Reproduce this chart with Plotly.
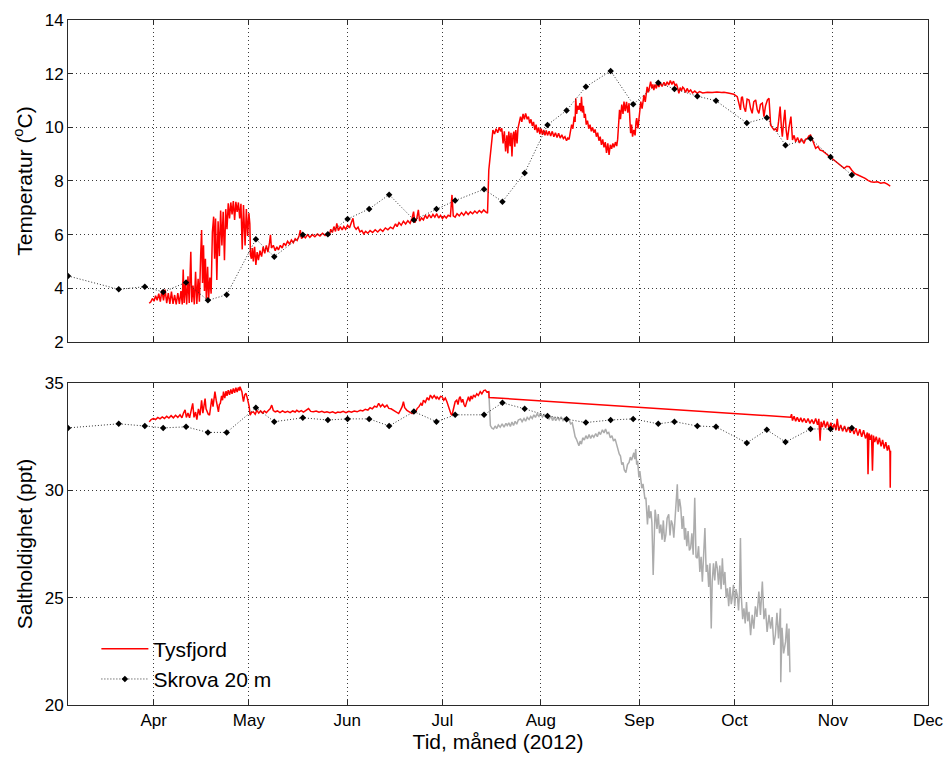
import pandas as pd
import plotly.graph_objects as go

# Dag i 2012 (0 = 1. januar) og verdi, lest av fra figuren
TYSFJORD_TEMP = [
    (89.6, 3.44), (90.1, 3.50), (90.6, 3.62), (91.1, 3.52), (91.6, 3.72), (92.1, 3.55), (92.6, 3.80),
    (93.1, 3.50), (93.6, 3.92), (94.1, 3.55), (94.6, 3.95), (95.1, 3.45), (95.6, 3.82), (96.1, 3.42),
    (96.6, 3.88), (97.1, 3.42), (97.6, 3.75), (98.1, 3.40), (98.6, 3.82), (99.1, 3.42), (99.6, 3.90),
    (100.0, 3.40), (100.3, 4.70), (100.6, 3.45), (101.0, 4.25), (101.4, 3.40), (101.8, 4.45), (102.2, 3.45),
    (102.7, 5.36), (103.0, 3.48), (103.4, 4.10), (103.8, 3.40), (104.2, 4.62), (104.6, 3.42), (105.0, 4.35),
    (105.4, 3.50), (105.8, 5.20), (106.1, 6.17), (106.4, 4.20), (106.7, 5.60), (107.0, 3.90), (107.3, 5.10),
    (107.6, 3.62), (108.0, 4.80), (108.3, 3.56), (108.7, 4.40), (109.1, 3.80), (109.5, 6.10), (109.9, 6.67),
    (110.2, 5.10), (110.5, 6.60), (110.9, 4.31), (111.3, 6.50), (111.7, 5.20), (112.1, 6.90), (112.5, 5.60),
    (112.9, 6.85), (113.3, 5.05), (113.7, 6.95), (114.1, 6.20), (114.5, 7.17), (114.9, 6.60), (115.3, 7.20),
    (115.7, 6.75), (116.1, 7.25), (116.5, 6.55), (116.9, 7.22), (117.3, 6.85), (117.7, 7.20), (118.1, 6.60),
    (118.5, 7.15), (118.9, 5.45), (119.3, 7.10), (119.8, 5.60), (120.2, 6.95), (120.6, 5.95), (121.0, 6.80),
    (121.3, 6.40), (121.5, 5.24), (121.8, 5.10), (122.1, 5.50), (122.4, 5.00), (122.8, 5.55), (123.2, 4.87),
    (123.6, 5.35), (124.0, 5.05), (124.5, 5.40), (125.0, 5.18), (125.5, 5.55), (126.0, 5.30), (126.5, 5.60),
    (127.0, 5.35), (127.5, 5.70), (127.8, 5.99), (128.1, 5.50), (128.7, 5.60), (129.3, 5.40), (129.8, 5.55),
    (130.3, 5.43), (130.9, 5.60), (131.5, 5.50), (132.0, 5.68), (132.6, 5.60), (133.2, 5.75), (133.8, 5.65),
    (134.4, 5.80), (135.0, 5.70), (135.6, 5.85), (136.2, 5.78), (136.8, 5.95), (137.2, 6.17), (137.6, 5.85),
    (138.2, 5.95), (138.8, 5.88), (139.5, 6.00), (140.2, 5.90), (141.0, 6.00), (141.8, 5.92), (142.6, 6.02),
    (143.4, 5.95), (144.2, 6.05), (145.0, 5.97), (145.8, 6.05), (146.4, 6.00), (146.8, 6.20), (147.3, 6.08),
    (147.8, 6.30), (148.3, 6.12), (148.7, 6.42), (149.2, 6.15), (149.8, 6.30), (150.4, 6.18), (150.9, 6.30),
    (151.5, 6.20), (152.1, 6.35), (152.7, 6.25), (153.3, 6.45), (153.8, 6.61), (154.2, 6.30), (154.8, 6.20),
    (155.4, 6.28), (156.0, 6.10), (156.6, 6.15), (157.2, 6.03), (157.8, 6.12), (158.5, 6.05), (159.2, 6.15),
    (160.0, 6.08), (160.8, 6.18), (161.6, 6.10), (162.4, 6.20), (163.2, 6.12), (164.0, 6.25), (164.8, 6.18),
    (165.6, 6.28), (166.4, 6.22), (167.2, 6.40), (167.7, 6.30), (168.3, 6.45), (169.0, 6.35), (169.7, 6.50),
    (170.4, 6.40), (171.1, 6.52), (171.8, 6.42), (172.4, 6.60), (172.9, 6.86), (173.3, 6.45), (173.9, 6.60),
    (174.4, 6.92), (174.8, 6.50), (175.4, 6.62), (176.0, 6.55), (176.6, 6.72), (177.2, 6.60), (177.8, 6.75),
    (178.4, 6.62), (179.0, 6.75), (179.6, 6.65), (180.2, 6.78), (180.8, 6.62), (181.4, 6.72), (182.0, 6.60),
    (182.6, 6.70), (183.2, 6.62), (183.8, 6.72), (184.5, 6.68), (185.0, 7.48), (185.4, 6.70), (186.0, 6.65),
    (186.6, 6.78), (187.3, 6.70), (188.0, 6.82), (188.7, 6.72), (189.4, 6.85), (190.1, 6.75), (190.8, 6.85),
    (191.5, 6.78), (192.2, 6.88), (192.9, 6.80), (193.6, 6.90), (194.3, 6.82), (195.0, 6.92), (195.6, 6.85),
    (196.2, 6.80), (196.6, 8.41), (197.1, 9.03), (197.6, 9.60), (197.9, 9.90), (198.4, 9.75), (198.9, 9.95),
    (199.4, 9.80), (199.9, 10.00), (200.3, 9.85), (200.7, 9.96), (201.1, 9.40), (201.5, 9.85), (201.9, 9.10),
    (202.3, 9.70), (202.6, 9.03), (202.9, 9.84), (203.3, 9.30), (203.6, 9.80), (203.9, 8.91), (204.2, 9.70),
    (204.5, 9.84), (204.8, 9.28), (205.1, 9.90), (205.5, 9.40), (205.8, 9.96), (206.2, 10.25), (206.6, 10.40),
    (207.0, 10.20), (207.4, 10.50), (207.8, 10.30), (208.2, 10.52), (208.7, 10.30), (209.1, 10.40), (209.5, 10.15),
    (209.9, 10.30), (210.3, 10.05), (210.7, 10.20), (211.1, 9.90), (211.5, 10.10), (211.9, 9.80), (212.3, 10.00),
    (212.7, 9.75), (213.1, 9.95), (213.5, 9.72), (213.9, 9.90), (214.3, 9.70), (214.7, 9.88), (215.1, 9.70),
    (215.6, 9.85), (216.1, 9.68), (216.6, 9.85), (217.1, 9.65), (217.6, 9.80), (218.1, 9.62), (218.6, 9.78),
    (219.1, 9.60), (219.6, 9.72), (220.1, 9.58), (220.6, 9.65), (221.1, 9.50), (221.5, 9.60), (221.9, 9.55),
    (222.3, 9.84), (222.7, 10.10), (223.1, 9.95), (223.5, 10.40), (223.8, 10.20), (224.0, 11.08), (224.3, 10.50),
    (224.6, 10.80), (225.0, 10.65), (225.3, 10.90), (225.6, 10.60), (225.8, 11.14), (226.1, 10.55), (226.4, 10.80),
    (226.7, 10.35), (227.0, 10.50), (227.3, 10.10), (227.7, 10.25), (228.1, 9.95), (228.5, 10.10), (228.9, 9.85),
    (229.3, 10.00), (229.7, 9.80), (230.1, 9.92), (230.5, 9.65), (230.9, 9.80), (231.3, 9.50), (231.7, 9.65),
    (232.1, 9.35), (232.5, 9.55), (232.9, 9.25), (233.3, 9.45), (233.7, 9.05), (234.1, 9.40), (234.5, 8.97),
    (234.9, 9.35), (235.3, 9.20), (235.7, 9.40), (236.1, 9.25), (236.5, 9.45), (236.9, 9.30), (237.2, 9.55),
    (237.5, 10.10), (237.8, 10.65), (238.1, 10.30), (238.5, 10.85), (238.9, 10.50), (239.2, 10.96), (239.6, 10.60),
    (240.0, 10.95), (240.4, 10.55), (240.8, 10.90), (241.1, 10.20), (241.3, 9.78), (241.6, 10.10), (241.9, 9.65),
    (242.3, 9.90), (242.7, 9.70), (243.0, 10.20), (243.2, 10.34), (243.6, 9.96), (244.0, 10.50), (244.5, 10.96),
    (244.9, 10.70), (245.2, 11.10), (245.5, 11.20), (245.9, 10.95), (246.2, 11.35), (246.5, 11.51), (246.9, 11.30),
    (247.2, 11.55), (247.6, 11.70), (248.0, 11.45), (248.3, 11.60), (248.6, 11.39), (249.0, 11.60), (249.4, 11.45),
    (249.7, 11.64), (250.2, 11.50), (250.7, 11.65), (251.2, 11.52), (251.8, 11.68), (252.3, 11.55), (252.8, 11.70),
    (253.3, 11.58), (253.8, 11.74), (254.3, 11.60), (254.8, 11.72), (255.3, 11.55), (255.7, 11.62), (256.0, 11.51),
    (256.5, 11.27), (256.9, 11.48), (257.3, 11.35), (257.7, 11.50), (258.1, 11.45), (258.6, 11.30), (259.1, 11.45),
    (259.6, 11.32), (260.2, 11.39), (260.8, 11.28), (261.5, 11.35), (262.3, 11.27), (263.0, 11.33), (264.0, 11.28),
    (265.5, 11.31), (267.0, 11.30), (268.5, 11.32), (270.0, 11.30), (270.7, 11.31), (272.0, 11.28), (273.0, 11.25),
    (273.8, 11.23), (274.4, 11.18), (274.9, 11.14), (275.4, 10.90), (275.9, 10.65), (276.2, 11.10), (276.5, 11.14),
    (277.0, 10.75), (277.5, 10.58), (278.0, 11.05), (278.6, 11.02), (279.1, 10.70), (279.6, 10.52), (280.1, 10.95),
    (280.7, 11.02), (281.2, 10.65), (281.7, 10.52), (282.2, 10.85), (282.8, 10.90), (283.3, 10.40), (283.8, 10.80),
    (284.4, 11.02), (284.9, 11.08), (285.2, 10.50), (285.4, 10.09), (286.0, 9.98), (286.5, 9.90), (287.0, 9.95),
    (287.5, 9.84), (287.9, 10.20), (288.4, 10.77), (288.8, 10.00), (289.1, 9.65), (289.5, 10.20), (289.9, 10.65),
    (290.3, 9.90), (290.7, 9.53), (291.2, 10.00), (291.8, 10.40), (292.3, 9.53), (292.8, 9.70), (293.3, 9.46),
    (293.9, 9.62), (294.5, 9.42), (295.1, 9.58), (295.9, 9.40), (296.4, 9.55), (297.0, 9.59), (297.5, 9.68),
    (298.0, 9.71), (298.6, 9.53), (299.1, 9.40), (299.6, 9.22), (300.3, 9.28), (301.0, 9.15), (301.7, 9.13),
    (302.5, 9.05), (303.3, 8.97), (304.1, 8.92), (304.9, 8.82), (305.6, 8.75), (306.3, 8.68), (307.0, 8.60),
    (307.8, 8.52), (308.6, 8.47), (309.4, 8.55), (310.2, 8.53), (311.0, 8.40), (311.8, 8.29), (312.6, 8.24),
    (313.4, 8.20), (314.3, 8.16), (315.2, 8.10), (316.1, 8.02), (317.0, 7.97), (318.0, 7.95), (319.1, 7.97),
    (320.1, 7.92), (321.2, 7.94), (322.2, 7.88), (323.1, 7.81),
]

SKROVA_DAYS = [64.0, 80.0, 88.2, 94.0, 101.2, 108.1, 114.0, 123.2, 129.0, 138.0, 145.9, 152.1, 158.9,
               165.2, 173.0, 180.1, 186.0, 195.1, 200.9, 207.9, 215.1, 221.1, 227.2, 235.0, 242.1,
               250.0, 255.1, 262.3, 268.2, 277.9, 284.2, 290.1, 298.0, 304.3, 311.0]
SKROVA_TEMP = [4.46, 3.96, 4.06, 3.86, 4.22, 3.55, 3.76, 5.83, 5.18, 6.00, 6.01, 6.58, 6.96,
               7.49, 6.55, 6.96, 7.27, 7.69, 7.23, 8.30, 10.09, 10.63, 11.51, 12.10, 10.86,
               11.66, 11.43, 11.16, 10.99, 10.16, 10.36, 9.33, 9.58, 8.89, 8.22]
SKROVA_SAL = [32.91, 33.10, 33.00, 32.91, 32.96, 32.70, 32.70, 33.85, 33.20, 33.38, 33.28, 33.33, 33.33,
              33.00, 33.67, 33.20, 33.52, 33.52, 34.08, 33.80, 33.47, 33.31, 33.16, 33.28, 33.33,
              33.10, 33.20, 33.00, 32.96, 32.21, 32.82, 32.25, 32.86, 32.86, 32.91]

TYSFJORD_SAL = [
    (89.6, 33.19), (90.2, 33.30), (90.9, 33.35), (91.6, 33.30), (92.3, 33.40), (93.0, 33.33), (93.7, 33.42),
    (94.4, 33.35), (95.1, 33.45), (95.8, 33.37), (96.5, 33.48), (97.2, 33.38), (97.9, 33.50), (98.6, 33.40),
    (99.3, 33.52), (99.9, 33.38), (100.4, 33.60), (100.9, 33.75), (101.3, 33.40), (101.8, 33.60), (102.3, 33.38),
    (102.8, 33.70), (103.3, 34.05), (103.7, 33.40), (104.2, 33.65), (104.6, 33.30), (105.1, 33.80), (105.6, 33.50),
    (106.1, 34.20), (106.5, 33.60), (106.9, 34.10), (107.2, 34.28), (107.5, 33.80), (107.8, 33.66), (108.2, 33.55),
    (108.6, 33.50), (109.0, 33.90), (109.3, 34.28), (109.7, 33.90), (110.0, 34.40), (110.3, 34.60), (110.7, 34.20),
    (111.1, 33.80), (111.4, 33.66), (111.7, 34.00), (112.0, 34.05), (112.4, 34.40), (112.7, 34.20), (113.0, 34.60),
    (113.4, 34.30), (113.8, 34.62), (114.1, 34.40), (114.5, 34.67), (114.9, 34.45), (115.3, 34.70), (115.7, 34.50),
    (116.1, 34.75), (116.5, 34.55), (116.9, 34.78), (117.3, 34.58), (117.7, 34.80), (118.0, 34.65), (118.2, 34.83),
    (118.5, 34.70), (118.8, 34.60), (119.1, 34.30), (119.3, 34.13), (119.7, 34.45), (120.1, 34.52), (120.5, 34.30),
    (120.8, 34.13), (121.1, 33.90), (121.4, 33.50), (121.8, 33.62), (122.4, 33.66), (123.0, 33.55), (123.5, 33.73),
    (124.1, 33.60), (124.7, 33.70), (125.3, 33.60), (125.9, 33.70), (126.5, 33.62), (127.2, 33.73), (127.7, 33.80),
    (128.2, 33.97), (128.7, 33.72), (129.3, 33.66), (130.0, 33.70), (130.8, 33.62), (131.6, 33.70), (132.4, 33.63),
    (133.2, 33.68), (134.0, 33.62), (134.8, 33.70), (135.6, 33.65), (136.1, 33.73), (136.8, 33.66), (137.5, 33.72),
    (138.2, 33.65), (139.0, 33.75), (139.8, 33.81), (140.5, 33.68), (141.3, 33.66), (142.2, 33.70), (143.1, 33.64),
    (144.0, 33.68), (144.8, 33.63), (145.6, 33.66), (146.5, 33.62), (147.4, 33.66), (148.3, 33.60), (149.0, 33.65),
    (149.8, 33.63), (150.7, 33.68), (151.6, 33.62), (152.5, 33.68), (153.3, 33.64), (154.2, 33.70), (155.1, 33.66),
    (156.1, 33.73), (156.9, 33.70), (157.7, 33.78), (158.5, 33.74), (159.2, 33.85), (159.9, 33.80), (160.6, 33.92),
    (161.3, 33.88), (161.9, 34.05), (162.5, 33.90), (163.1, 34.00), (163.8, 33.88), (164.5, 33.97), (165.1, 33.82),
    (165.8, 33.80), (166.6, 33.73), (167.3, 33.65), (168.2, 33.58), (168.8, 33.75), (169.3, 33.90), (169.7, 34.13),
    (170.1, 33.85), (170.8, 33.73), (171.5, 33.65), (172.4, 33.58), (173.0, 33.70), (173.5, 33.65), (174.0, 33.81),
    (174.6, 33.90), (175.2, 34.05), (175.6, 33.95), (176.0, 34.20), (176.6, 34.10), (177.2, 34.32), (177.7, 34.20),
    (178.2, 34.44), (178.8, 34.30), (179.4, 34.42), (180.0, 34.28), (180.3, 34.36), (180.9, 34.25), (181.4, 34.38),
    (181.9, 34.36), (182.4, 34.20), (182.9, 34.30), (183.4, 34.13), (183.9, 33.90), (184.3, 33.70), (184.7, 33.55),
    (185.0, 33.50), (185.4, 33.80), (185.7, 34.00), (186.0, 34.13), (186.5, 34.20), (186.9, 34.00), (187.3, 34.30),
    (187.6, 34.36), (188.0, 34.10), (188.4, 34.25), (188.8, 34.00), (189.2, 33.89), (189.6, 34.10), (190.2, 34.36),
    (190.6, 34.15), (191.0, 34.40), (191.4, 34.25), (191.8, 34.44), (192.3, 34.35), (192.8, 34.50), (193.3, 34.42),
    (193.9, 34.60), (194.4, 34.50), (195.0, 34.65), (195.5, 34.67), (196.0, 34.58), (196.6, 34.60), (196.7, 34.33),
    (291.7, 33.41), (292.0, 33.55), (292.3, 33.25), (292.8, 33.45), (293.3, 33.22), (293.8, 33.40), (294.4, 33.20),
    (294.9, 33.38), (295.4, 33.18), (296.0, 33.35), (296.6, 33.15), (297.2, 33.35), (297.8, 33.12), (298.4, 33.30),
    (299.0, 33.10), (299.6, 33.35), (300.2, 33.05), (300.6, 33.33), (301.0, 32.31), (301.3, 33.20), (301.7, 32.95),
    (302.2, 33.25), (302.7, 32.92), (303.3, 33.20), (303.8, 32.88), (304.4, 33.15), (304.9, 32.85), (305.5, 33.10),
    (306.0, 32.80), (306.4, 33.33), (306.9, 32.78), (307.5, 33.05), (308.1, 32.75), (308.7, 33.00), (309.3, 32.72),
    (309.9, 32.95), (310.5, 32.68), (311.1, 32.92), (311.7, 32.62), (312.3, 32.90), (312.9, 32.55), (313.5, 32.85),
    (314.1, 32.50), (314.7, 32.80), (315.3, 32.42), (315.9, 32.70), (316.1, 30.75), (316.4, 32.65), (316.8, 32.35),
    (317.2, 32.60), (317.5, 30.91), (317.8, 32.55), (318.2, 32.25), (318.7, 32.50), (319.2, 32.15), (319.7, 32.45),
    (320.2, 32.05), (320.7, 32.35), (321.2, 31.95), (321.7, 32.25), (322.2, 31.85), (322.6, 32.10), (323.0, 31.80),
    (323.1, 30.12), (323.2, 31.85),
]

# forkastet saltholdighet (grå)
TYSFJORD_SAL_RAW = [
    (196.6, 34.60), (196.9, 33.60), (197.1, 33.02), (197.6, 32.90), (198.1, 32.86), (198.6, 33.00), (199.1, 32.88),
    (199.6, 33.05), (200.2, 32.94), (200.8, 33.10), (201.4, 32.95), (202.0, 33.12), (202.4, 33.02), (202.9, 33.15),
    (203.4, 32.98), (203.9, 33.18), (204.4, 33.02), (204.9, 33.22), (205.4, 33.08), (205.9, 33.28), (206.6, 33.33),
    (207.1, 33.20), (207.7, 33.35), (208.2, 33.22), (208.7, 33.40), (209.3, 33.30), (209.8, 33.45), (210.3, 33.35),
    (210.8, 33.52), (211.3, 33.40), (211.8, 33.56), (212.4, 33.45), (212.9, 33.60), (213.5, 33.42), (214.1, 33.55),
    (214.6, 33.38), (215.0, 33.50), (215.6, 33.32), (216.2, 33.45), (216.7, 33.25), (217.2, 33.42), (217.7, 33.25),
    (218.3, 33.40), (218.8, 33.28), (219.4, 33.42), (220.0, 33.25), (220.6, 33.38), (221.2, 33.22), (221.8, 33.30),
    (222.4, 33.10), (222.9, 33.15), (223.4, 32.80), (223.8, 32.50), (224.2, 32.39), (224.6, 32.20), (225.0, 32.08),
    (225.4, 32.30), (225.8, 32.15), (226.2, 32.45), (226.7, 32.35), (227.2, 32.55), (227.7, 32.40), (228.2, 32.60),
    (228.7, 32.42), (229.2, 32.58), (229.7, 32.47), (230.3, 32.65), (230.8, 32.50), (231.3, 32.72), (231.8, 32.60),
    (232.4, 32.82), (232.9, 32.68), (233.4, 32.86), (233.9, 32.65), (234.4, 32.70), (234.9, 32.45), (235.4, 32.55),
    (235.9, 32.30), (236.4, 32.40), (236.9, 32.10), (237.3, 32.00), (237.7, 31.70), (238.1, 31.60), (238.5, 31.20),
    (238.9, 31.30), (239.3, 30.95), (239.8, 30.83), (240.3, 31.20), (240.8, 31.30), (241.2, 31.55), (241.6, 31.40),
    (241.9, 31.61), (242.3, 31.75), (242.6, 31.45), (242.9, 31.92), (243.2, 31.20), (243.5, 31.38), (243.9, 30.60),
    (244.2, 30.90), (244.5, 30.52), (244.8, 30.10), (245.2, 30.30), (245.5, 29.89), (245.8, 29.60), (246.1, 29.66),
    (246.4, 28.90), (246.6, 28.41), (247.0, 29.30), (247.3, 28.70), (247.7, 29.03), (248.0, 28.50), (248.4, 26.06),
    (248.7, 28.40), (249.0, 29.10), (249.2, 28.88), (249.6, 28.20), (250.0, 28.90), (250.4, 28.00), (250.8, 28.41),
    (251.2, 27.70), (251.6, 28.60), (252.0, 27.60), (252.4, 27.94), (252.8, 28.70), (253.3, 28.88), (253.7, 27.90),
    (254.1, 28.60), (254.5, 28.41), (254.9, 27.80), (255.3, 28.80), (255.6, 29.40), (256.0, 30.28), (256.3, 29.00),
    (256.7, 29.60), (257.1, 29.19), (257.5, 28.20), (257.9, 28.80), (258.3, 27.70), (258.6, 28.25), (259.0, 27.40),
    (259.4, 28.10), (259.8, 27.20), (260.2, 27.31), (260.6, 28.00), (261.0, 27.00), (261.5, 29.66), (261.9, 26.90),
    (262.3, 26.84), (262.7, 27.40), (263.1, 26.20), (263.5, 26.90), (263.9, 25.75), (264.3, 27.00), (264.7, 28.25),
    (265.1, 26.20), (265.5, 26.53), (265.9, 25.50), (266.3, 26.60), (266.7, 23.56), (267.0, 25.75), (267.4, 26.60),
    (267.8, 25.80), (268.2, 26.70), (268.6, 26.38), (269.0, 25.60), (269.4, 26.50), (269.8, 25.40), (270.2, 26.84),
    (270.6, 25.60), (271.0, 26.20), (271.4, 25.00), (271.8, 25.44), (272.2, 24.60), (272.6, 25.50), (273.0, 24.70),
    (273.3, 24.97), (273.7, 25.60), (274.1, 24.60), (274.5, 25.40), (274.9, 25.12), (275.3, 24.40), (275.6, 25.20),
    (275.9, 27.78), (276.2, 25.00), (276.6, 24.00), (277.0, 24.50), (277.4, 23.80), (277.8, 24.80), (278.2, 23.90),
    (278.6, 24.34), (279.1, 23.25), (279.6, 24.20), (280.1, 23.56), (280.6, 24.60), (281.1, 24.10), (281.7, 25.28),
    (282.2, 24.20), (282.8, 25.75), (283.3, 24.00), (283.8, 24.50), (284.3, 23.40), (284.9, 24.20), (285.4, 23.56),
    (285.9, 24.10), (286.4, 22.80), (286.9, 23.25), (287.4, 24.30), (287.9, 23.10), (288.5, 24.50), (288.6, 21.06),
    (289.0, 23.60), (289.5, 22.40), (290.1, 22.94), (290.5, 23.80), (290.9, 22.30), (291.2, 23.56), (291.5, 21.53),
]

MONTH_TICKS = ["2012-04-01", "2012-05-01", "2012-06-01", "2012-07-01", "2012-08-01",
               "2012-09-01", "2012-10-01", "2012-11-01", "2012-12-01"]
MONTH_LABELS = ["Apr", "May", "Jun", "Jul", "Aug", "Sep", "Oct", "Nov", "Dec"]

YEAR_START = pd.Timestamp("2012-01-01")


def to_dates(days):
    return YEAR_START + pd.to_timedelta(list(days), unit="D")


def split(pairs):
    days, vals = zip(*pairs)
    return to_dates(days), list(vals)


tt_x, tt_y = split(TYSFJORD_TEMP)
ts_x, ts_y = split(TYSFJORD_SAL)
tr_x, tr_y = split(TYSFJORD_SAL_RAW)
sk_x = to_dates(SKROVA_DAYS)

skrova_line = dict(color="#333333", width=1, dash="1px,2px")
skrova_marker = dict(symbol="diamond", size=5, color="black")

fig = go.Figure()
fig.add_trace(go.Scatter(x=tt_x, y=tt_y, mode="lines", line=dict(color="red", width=1.5),
                         showlegend=False, xaxis="x", yaxis="y"))
fig.add_trace(go.Scatter(x=sk_x, y=SKROVA_TEMP, mode="lines+markers", line=skrova_line,
                         marker=skrova_marker, showlegend=False, xaxis="x", yaxis="y"))
fig.add_trace(go.Scatter(x=tr_x, y=tr_y, mode="lines", line=dict(color="#acacac", width=1.5),
                         showlegend=False, xaxis="x2", yaxis="y2"))
fig.add_trace(go.Scatter(x=ts_x, y=ts_y, mode="lines", line=dict(color="red", width=1.5),
                         name="Tysfjord", xaxis="x2", yaxis="y2"))
fig.add_trace(go.Scatter(x=sk_x, y=SKROVA_SAL, mode="lines+markers", line=skrova_line,
                         marker=skrova_marker, name="Skrova 20 m", xaxis="x2", yaxis="y2"))

axis_style = dict(
    showline=True, linecolor="#2a2a2a", linewidth=1, mirror="ticks",
    ticks="inside", ticklen=5, tickcolor="#2a2a2a",
    showgrid=True, gridcolor="#3a3a3a", griddash="1px,3px", gridwidth=1,
    zeroline=False, tickfont=dict(size=17), automargin=False,
)
x_range = ["2012-03-05", "2012-12-01"]

fig.update_layout(
    width=946, height=761,
    margin=dict(l=68, r=18, t=20, b=56),
    paper_bgcolor="white", plot_bgcolor="white",
    font=dict(family="Liberation Sans, Arial, sans-serif", size=17, color="black"),
    legend=dict(x=0.033, y=0.008, xanchor="left", yanchor="bottom", itemwidth=47,
                bgcolor="rgba(0,0,0,0)", font=dict(size=21), traceorder="normal"),
    xaxis=dict(axis_style, domain=[0, 1], anchor="y", range=x_range, matches="x2",
               tickvals=MONTH_TICKS, ticktext=MONTH_LABELS, showticklabels=False),
    yaxis=dict(axis_style, domain=[0.530, 1], anchor="x", range=[2, 14], dtick=2,
               title=dict(text="Temperatur (<sup>o</sup>C)", font=dict(size=21), standoff=6)),
    xaxis2=dict(axis_style, domain=[0, 1], anchor="y2", range=x_range,
                tickvals=MONTH_TICKS, ticktext=MONTH_LABELS,
                title=dict(text="Tid, måned (2012)", font=dict(size=21), standoff=4)),
    yaxis2=dict(axis_style, domain=[0, 0.470], anchor="x2", range=[20, 35],
                tickvals=[20, 25, 30, 35],
                title=dict(text="Saltholdighet (ppt)", font=dict(size=21), standoff=6)),
)

# siden skal ikke ha standardmarg rundt figuren
fig.write_html("out.html", config={"displayModeBar": False},
               post_script="document.body.style.margin = '0';")
